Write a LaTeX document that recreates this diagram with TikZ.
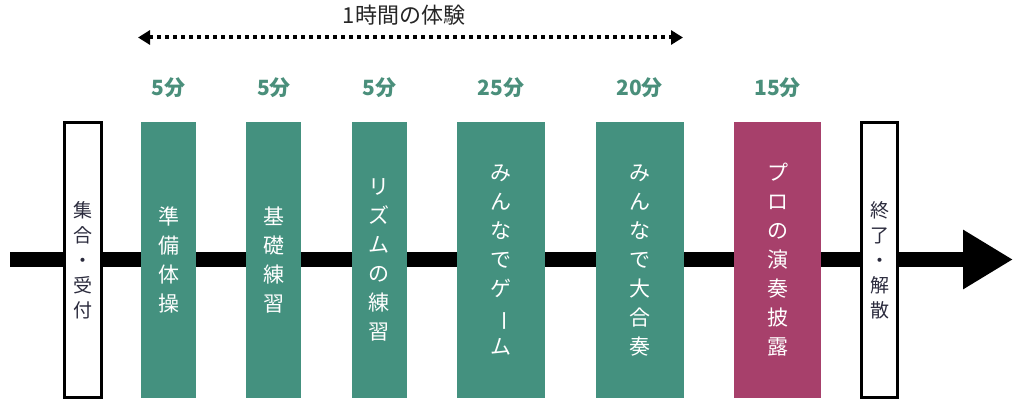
\documentclass[tikz,border=0pt]{standalone}
\usepackage{fontspec}
\newfontfamily\jpfont{Noto Sans CJK JP}
\usetikzlibrary{positioning,arrows.meta}
\definecolor{barteal}{HTML}{44917F}
\definecolor{barpink}{HTML}{A7406B}
\definecolor{minteal}{HTML}{4A8F7B}
\definecolor{boxtext}{HTML}{2B2B3D}
\tikzset{
    >=Stealth,
    bar/.style={rectangle, inner sep=0pt, minimum height=276pt, align=center,
        text=white, font=\jpfont\fontsize{21}{29}\selectfont},
    greenbar/.style={bar, fill=barteal},
    pinkbar/.style={bar, fill=barpink},
    endbox/.style={rectangle, draw=black, line width=3pt, fill=white, inner sep=0pt,
        minimum width=37pt, minimum height=275pt, align=center,
        text=boxtext, font=\jpfont\fontsize{19}{25}\selectfont},
    minutes/.style={text=minteal, font=\jpfont\bfseries\fontsize{21}{25}\selectfont},
}

\begin{document}
\begin{tikzpicture}[x=1pt, y=1pt]
            \useasboundingbox (0,0) rectangle (1024,400);

            % time axis
            \coordinate (t0) at (10,140.5);
            \coordinate (t1) at (1013,140.5);
            \draw[line width=15pt, -{Triangle[length=50pt,width=56pt]}] (t0) -- (t1);

            % one hour span
            \coordinate (h0) at (138,362.5);
            \coordinate (h1) at (683,362.5);
            \draw[line width=4pt, dash pattern=on 4pt off 4pt,
                {Triangle[length=12pt,width=14pt]}-{Triangle[length=12pt,width=14pt]}] (h0) -- (h1);
            \node[font=\jpfont\fontsize{22}{26}\selectfont, text=black!85] (hour) at (404,385) {1時間の体験};

            % activities
            \node[greenbar, minimum width=55pt] (warmup) at (168.5,140) {準\\備\\体\\操};
            \node[greenbar, minimum width=55pt, right=50pt of warmup] (basics) {基\\礎\\練\\習};
            \node[greenbar, minimum width=55pt, right=50pt of basics] (rhythm) {リ\\ズ\\ム\\の\\練\\習};
            \node[greenbar, minimum width=88pt, right=50pt of rhythm] (game) {み\\ん\\な\\で\\ゲ\\\rotatebox[origin=c]{-90}{ー}\\ム};
            \node[greenbar, minimum width=88pt, right=50pt of game] (ensemble) {み\\ん\\な\\で\\大\\合\\奏};
            \node[pinkbar, minimum width=87pt, right=50pt of ensemble] (concert) {プ\\ロ\\の\\演\\奏\\披\\露};

            % start and end
            \node[endbox, left=38pt of warmup] (gather) {集\\合\\・\\受\\付};
            \node[endbox, minimum width=36pt, right=39pt of concert] (finish) {終\\了\\・\\解\\散};

            % minutes
            \node[minutes, above=21pt of warmup] (m1) {5分};
            \node[minutes, above=21pt of basics] (m2) {5分};
            \node[minutes, above=21pt of rhythm] (m3) {5分};
            \node[minutes, above=21pt of game] (m4) {25分};
            \node[minutes, above=21pt of ensemble] (m5) {20分};
            \node[minutes, above=21pt of concert] (m6) {15分};
\end{tikzpicture}
\end{document}
